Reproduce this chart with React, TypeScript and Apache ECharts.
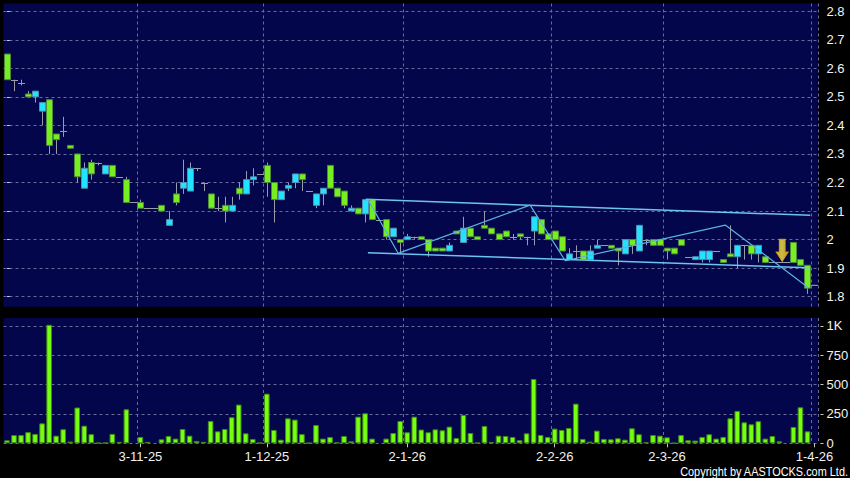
import React, { useEffect, useRef } from "react";
import * as echarts from "echarts";

// Trading days shown on the category axis (day numbers per month-year)
const monthDays: [string, number[]][] = [
  ["10-25", [3, 6, 8, 9, 10, 13, 14, 15, 16, 17, 20, 21, 22, 23, 24, 27, 28, 30, 31]],
  ["11-25", [3, 4, 5, 6, 10, 11, 12, 13, 14, 17, 18, 19, 20, 24, 25, 26, 27, 28]],
  ["12-25", [1, 2, 3, 4, 5, 8, 9, 10, 11, 12, 15, 16, 17, 18, 19, 22, 23, 29, 30, 31]],
  ["1-26", [2, 5, 6, 7, 8, 9, 12, 13, 14, 15, 16, 19, 20, 21, 22, 23, 26, 27, 28, 29, 30]],
  ["2-26", [2, 3, 4, 5, 6, 9, 10, 11, 12, 13, 20, 23, 24, 25, 26, 27]],
  ["3-26", [2, 3, 4, 5, 6, 9, 10, 11, 12, 13, 16, 17, 18, 19, 20, 23, 24, 25, 26, 27, 30]],
  ["4-26", [1]],
];
const dates: string[] = monthDays.flatMap(([my, days]) => days.map((d) => `${d}-${my}`));

const opens = [
  2.65, 2.56, 2.55, 2.51, 2.5, 2.45, 2.49, 2.37, 2.38, 2.33,
  2.3, 2.18, 2.27, 2.27, 2.23, 2.26, 2.22, 2.21, 2.13, 2.13,
  2.11, 2.11, 2.12, 2.05, 2.16, 2.18, 2.17, 2.25, 2.2, 2.16,
  2.11, 2.12, 2.1, 2.18, 2.16, 2.21, 2.23, 2.26, 2.2, 2.14,
  2.18, 2.2, 2.23, 2.17, 2.12, 2.16, 2.26, 2.18, 2.17, 2.1,
  2.11, 2.09, 2.14, 2.07, 2.07, 2.01, 2.0, 2.0, 2.01, 2.01,
  2.0, 1.97, 1.97, 1.96, 2.03, 1.99, 2.04, 2.01, 2.05, 2.04,
  2.02, 2.03, 2.01, 2.02, 2.01, 2.03, 2.07, 2.02, 2.03, 2.01,
  1.93, 1.96, 1.96, 1.93, 1.97, 1.98, 1.98, 1.97, 1.95, 2.0,
  1.96, 2.0, 2.0, 2.0, 1.97, 1.97, 2.0, 1.94, 1.93, 1.93,
  1.93, 1.96, 1.93, 1.95, 1.94, 1.98, 1.98, 1.95, 1.94, 1.92,
  1.92, 1.92, 1.99, 1.93, 1.91,
];
const highs = [
  2.65, 2.56, 2.56, 2.52, 2.52, 2.48, 2.49, 2.37, 2.43, 2.33,
  2.3, 2.27, 2.28, 2.27, 2.26, 2.26, 2.22, 2.22, 2.13, 2.14,
  2.11, 2.11, 2.12, 2.1, 2.2, 2.28, 2.27, 2.25, 2.2, 2.16,
  2.15, 2.15, 2.15, 2.2, 2.24, 2.25, 2.23, 2.27, 2.2, 2.17,
  2.2, 2.23, 2.23, 2.17, 2.16, 2.18, 2.26, 2.18, 2.17, 2.12,
  2.11, 2.14, 2.14, 2.07, 2.07, 2.04, 2.0, 2.02, 2.01, 2.01,
  2.0, 1.97, 1.97, 1.99, 2.03, 2.08, 2.04, 2.01, 2.1, 2.04,
  2.02, 2.03, 2.02, 2.02, 2.01, 2.08, 2.07, 2.02, 2.03, 2.01,
  1.97, 1.98, 1.96, 1.98, 2.0, 1.98, 1.98, 1.97, 2.0, 2.0,
  2.05, 2.0, 2.0, 2.0, 1.97, 1.97, 2.0, 1.94, 1.94, 1.96,
  1.96, 1.96, 1.93, 2.05, 1.98, 1.98, 1.98, 1.98, 1.94, 1.92,
  1.92, 1.92, 1.99, 1.93, 1.91,
];
const lows = [
  2.56, 2.52, 2.54, 2.5, 2.48, 2.4, 2.3, 2.3, 2.36, 2.32,
  2.2, 2.18, 2.21, 2.26, 2.23, 2.22, 2.22, 2.13, 2.13, 2.11,
  2.11, 2.11, 2.1, 2.05, 2.12, 2.16, 2.17, 2.24, 2.17, 2.11,
  2.1, 2.06, 2.1, 2.14, 2.16, 2.19, 2.23, 2.15, 2.06, 2.14,
  2.17, 2.18, 2.17, 2.17, 2.11, 2.12, 2.18, 2.15, 2.11, 2.1,
  2.09, 2.06, 2.07, 2.07, 2.0, 2.01, 1.95, 2.0, 2.0, 2.0,
  1.94, 1.96, 1.96, 1.96, 2.02, 1.99, 2.01, 2.0, 2.04, 2.02,
  2.0, 2.01, 2.0, 2.0, 1.98, 1.98, 2.02, 2.0, 2.0, 1.96,
  1.93, 1.93, 1.93, 1.93, 1.97, 1.98, 1.97, 1.91, 1.95, 1.95,
  1.96, 1.98, 1.98, 1.98, 1.93, 1.95, 1.98, 1.94, 1.93, 1.92,
  1.92, 1.96, 1.92, 1.94, 1.9, 1.93, 1.93, 1.92, 1.92, 1.92,
  1.92, 1.92, 1.92, 1.91, 1.81,
];
const closes = [
  2.56, 2.56, 2.55, 2.5, 2.52, 2.48, 2.33, 2.35, 2.38, 2.32,
  2.22, 2.25, 2.23, 2.27, 2.26, 2.22, 2.22, 2.13, 2.13, 2.11,
  2.11, 2.11, 2.1, 2.07, 2.13, 2.2, 2.25, 2.25, 2.2, 2.11,
  2.11, 2.1, 2.12, 2.16, 2.21, 2.22, 2.23, 2.2, 2.14, 2.17,
  2.19, 2.23, 2.21, 2.17, 2.16, 2.18, 2.18, 2.15, 2.12, 2.11,
  2.09, 2.14, 2.07, 2.07, 2.01, 2.04, 1.99, 2.01, 2.01, 2.0,
  1.96, 1.96, 1.96, 1.98, 2.02, 2.04, 2.01, 2.0, 2.04, 2.02,
  2.0, 2.01, 2.01, 2.01, 2.01, 2.08, 2.02, 2.0, 2.0, 1.96,
  1.95, 1.96, 1.93, 1.96, 1.98, 1.98, 1.97, 1.96, 2.0, 1.98,
  2.05, 2.0, 1.98, 1.98, 1.96, 1.95, 1.98, 1.94, 1.94, 1.96,
  1.96, 1.96, 1.92, 1.94, 1.98, 1.98, 1.95, 1.98, 1.92, 1.92,
  1.92, 1.92, 1.92, 1.91, 1.83,
];
const volumes = [
  25, 70, 70, 95, 80, 170, 1010, 65, 120, 15,
  305, 150, 78, 3, 5, 80, 12, 290, 0, 54,
  12, 0, 34, 62, 40, 122, 65, 20, 12, 190,
  102, 122, 222, 330, 85, 37, 5, 423, 114, 31,
  213, 202, 78, 3, 156, 40, 54, 8, 62, 17,
  227, 256, 40, 0, 40, 88, 190, 94, 227, 117,
  94, 119, 111, 142, 45, 242, 88, 5, 148, 11,
  65, 62, 54, 26, 85, 548, 71, 54, 125, 114,
  131, 338, 37, 14, 108, 37, 34, 43, 31, 128,
  77, 9, 71, 65, 51, 2, 71, 26, 23, 54,
  77, 40, 54, 213, 276, 179, 162, 188, 40, 62,
  17, 0, 139, 307, 102,
];

const priceTicks = [1.8, 1.9, 2, 2.1, 2.2, 2.3, 2.4, 2.5, 2.6, 2.7, 2.8];
const volumeTicks = [0, 250, 500, 750, 1000];

// Drawn annotations, in (day index, price) units
const channelUpper = [[51.1, 2.141], [114.4, 2.085]];
const channelLower = [[51.4, 1.954], [114.4, 1.901]];
const zigzag = [[51.4, 2.141], [55.7, 1.952], [74.5, 2.121], [79.5, 1.926], [102.3, 2.051], [114.0, 1.834]];
const arrowAt = [110.4, 1.962];
const lastPrice = 1.84;

const NAVY = "#03064a";
const GRIDLINE = { color: "#6a6a9c", width: 1, type: [3, 3] as number[] };
const LABEL_COLOR = "#f2f2f2";
const FONT = "'Liberation Sans', Arial, sans-serif";
const UP_FILL = "#22e2ff";
const UP_BORDER = "#4d8fb0";
const DOWN_FILL = "#77ee22";
const DOWN_BORDER = "#4c8a3a";
const WICK = "#9a9aab";
const TREND = "#6cc4f0";

const isMonthStart = (i: number) => {
  if (i <= 0) return false;
  return dates[i].split("-")[1] !== dates[i - 1].split("-")[1];
};

export default function App() {
  const ref = useRef<HTMLDivElement>(null);

  useEffect(() => {
    if (!ref.current) return;
    const chart = echarts.init(ref.current, undefined, { renderer: "svg" });

    const candleData = opens.map((o, i) => [i, o, closes[i], lows[i], highs[i]]);
    const volData = volumes.map((v) => (v > 0 ? v : null));

    const option: any = {
      animation: false,
      backgroundColor: "#000000",
      grid: [
        { left: 3.5, top: 3.5, width: 814.5, height: 303.2, show: true, backgroundColor: NAVY, borderWidth: 0, outerBoundsMode: "none" },
        { left: 3.5, top: 318, width: 814.5, height: 125.3, show: true, backgroundColor: NAVY, borderWidth: 0, outerBoundsMode: "none" },
      ],
      xAxis: [
        {
          type: "category",
          gridIndex: 0,
          data: dates,
          boundaryGap: true,
          axisLine: { show: false },
          axisTick: { show: false },
          axisLabel: { show: false },
          splitLine: { show: true, interval: (i: number) => isMonthStart(i), lineStyle: GRIDLINE },
        },
        {
          type: "category",
          gridIndex: 1,
          data: dates,
          boundaryGap: true,
          position: "bottom",
          offset: 3,
          axisLine: { show: false },
          axisTick: {
            show: true,
            alignWithLabel: true,
            length: 4,
            interval: (i: number) => isMonthStart(i),
            lineStyle: { color: "#c8c8c8" },
          },
          axisLabel: {
            interval: (i: number) => isMonthStart(i),
            margin: 4,
            color: LABEL_COLOR,
            fontSize: 13,
            fontFamily: FONT,
          },
          splitLine: { show: true, interval: (i: number) => isMonthStart(i), lineStyle: GRIDLINE },
        },
        { type: "value", gridIndex: 0, min: -0.5, max: dates.length - 0.5, show: false },
      ],
      yAxis: [
        {
          type: "value",
          gridIndex: 0,
          position: "right",
          min: 1.765,
          max: 2.827,
          offset: 2.5,
          axisLine: { show: false },
          axisTick: { show: true, length: 3, customValues: priceTicks, lineStyle: { color: "#c8c8c8" } },
          axisLabel: { customValues: priceTicks, margin: 6, color: LABEL_COLOR, fontSize: 13, fontFamily: FONT },
          splitLine: { show: true, lineStyle: GRIDLINE },
        },
        {
          type: "value",
          gridIndex: 1,
          position: "right",
          min: 0,
          max: 1068,
          offset: 2.5,
          axisLine: { show: false },
          axisTick: { show: true, length: 3, customValues: volumeTicks, lineStyle: { color: "#c8c8c8" } },
          axisLabel: {
            customValues: volumeTicks,
            margin: 6,
            color: LABEL_COLOR,
            fontSize: 13,
            fontFamily: FONT,
            formatter: (v: number) => (v >= 1000 ? `${v / 1000}K` : String(v)),
          },
          splitLine: { show: true, lineStyle: GRIDLINE },
        },
      ],
      series: [
        {
          type: "custom",
          name: "price",
          xAxisIndex: 0,
          yAxisIndex: 0,
          data: candleData,
          encode: { x: 0, y: [1, 2, 3, 4] },
          z: 3,
          renderItem: (_params: any, api: any) => {
            const idx = api.value(0);
            const o = api.value(1);
            const c = api.value(2);
            const l = api.value(3);
            const h = api.value(4);
            const pO = api.coord([idx, o]);
            const yC = api.coord([idx, c])[1];
            const yL = api.coord([idx, l])[1];
            const yH = api.coord([idx, h])[1];
            const xc = Math.round(pO[0]) + 0.5;
            const children: any[] = [];
            if (yL - yH > 0.5) {
              children.push({
                type: "line",
                shape: { x1: xc, y1: yH, x2: xc, y2: yL },
                style: { stroke: WICK, lineWidth: 1 },
              });
            }
            if (o === c) {
              const yy = Math.round(pO[1]) + 0.5;
              children.push({
                type: "line",
                shape: { x1: xc - 3.5, y1: yy, x2: xc + 3.5, y2: yy },
                style: { stroke: WICK, lineWidth: 1 },
              });
            } else {
              const up = c > o;
              const top = Math.min(pO[1], yC);
              const hgt = Math.abs(pO[1] - yC);
              children.push({
                type: "rect",
                shape: { x: xc - 3, y: top, width: 6, height: hgt },
                style: { fill: up ? UP_FILL : DOWN_FILL, stroke: up ? UP_BORDER : DOWN_BORDER, lineWidth: 1 },
              });
            }
            return { type: "group", children };
          },
        },
        {
          type: "bar",
          name: "volume",
          xAxisIndex: 1,
          yAxisIndex: 1,
          data: volData,
          barWidth: 5.6,
          itemStyle: { color: "#77ff11", borderColor: "#3f8a12", borderWidth: 1 },
        },
        {
          type: "line",
          xAxisIndex: 2,
          yAxisIndex: 0,
          data: channelUpper,
          symbol: "none",
          lineStyle: { color: TREND, width: 1.5 },
          z: 4,
        },
        {
          type: "line",
          xAxisIndex: 2,
          yAxisIndex: 0,
          data: channelLower,
          symbol: "none",
          lineStyle: { color: TREND, width: 1.5 },
          z: 4,
        },
        {
          type: "line",
          xAxisIndex: 2,
          yAxisIndex: 0,
          data: zigzag,
          symbol: "none",
          lineStyle: { color: "#5cb2e4", width: 1.2 },
          z: 4,
        },
        {
          type: "line",
          xAxisIndex: 2,
          yAxisIndex: 0,
          data: [[dates.length - 1.5, lastPrice], [dates.length - 0.5, lastPrice]],
          symbol: "none",
          lineStyle: { color: "#a7b0c0", width: 1 },
          z: 4,
        },
        {
          type: "scatter",
          xAxisIndex: 2,
          yAxisIndex: 0,
          data: [arrowAt],
          symbol: "path://M3,0L9,0L9,12.5L12,12.5L6,22L0,12.5L3,12.5Z",
          symbolSize: [12.3, 22.4],
          itemStyle: {
            color: new echarts.graphic.LinearGradient(0, 0, 1, 0, [
              { offset: 0, color: "#ffd21a" },
              { offset: 0.5, color: "#ffe84a" },
              { offset: 1, color: "#f5b400" },
            ]),
            borderColor: "#e8a200",
            borderWidth: 0.8,
          },
          z: 6,
        },
      ],
      graphic: [
        {
          type: "text",
          x: 848,
          y: 471.5,
          scaleX: 0.84,
          style: {
            text: "Copyright by AASTOCKS.com Ltd.",
            fill: "#ffffff",
            font: `13px ${FONT}`,
            textAlign: "right",
            textVerticalAlign: "middle",
          },
        },
      ],
    };

    chart.setOption(option);
    return () => chart.dispose();
  }, []);

  return (
    <div
      ref={ref}
      style={{ position: "fixed", left: 0, top: 0, width: 850, height: 478, background: "#000" }}
    />
  );
}
